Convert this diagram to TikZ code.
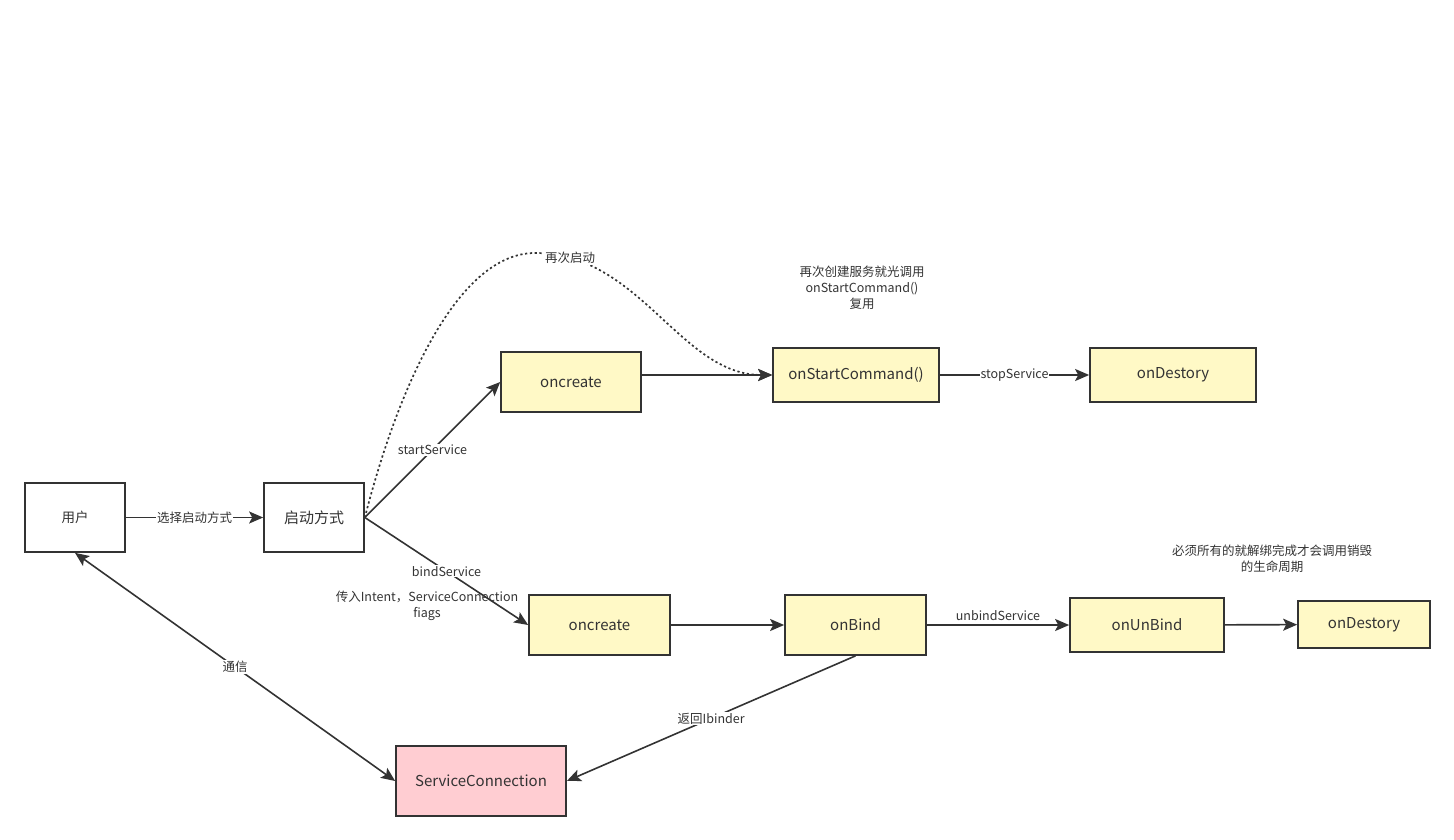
\documentclass[tikz,border=0pt]{standalone}
\usepackage{fontspec}
\setmainfont{Noto Sans CJK SC}
\usepackage{xcolor}
\usetikzlibrary{arrows.meta,positioning}
\definecolor{ink}{HTML}{333333}
\definecolor{noteyellow}{HTML}{FFF9C6}
\definecolor{connpink}{HTML}{FFCDD2}

\begin{document}
\begin{tikzpicture}[
  x=1pt, y=-1pt,
  font=\fontsize{12.5}{15}\selectfont, text=ink,
  box/.style={draw=ink, line width=1.7pt, align=center, inner sep=0pt, font=\fontsize{15}{18}\selectfont},
  plain/.style={box, fill=white},
  stage/.style={box, fill=noteyellow},
  conn/.style={box, fill=connpink},
  arr/.style={-{Stealth[length=14pt, width=12pt, inset=3pt]}, line width=1.6pt, draw=ink},
  both/.style={{Stealth[length=14pt, width=12pt, inset=3pt]}-{Stealth[length=14pt, width=12pt, inset=3pt]}, line width=1.6pt, draw=ink},
  lbl/.style={fill=white, inner sep=1pt, font=\fontsize{12.5}{15}\selectfont},
  note/.style={align=center, font=\fontsize{12.5}{16}\selectfont},
]
\useasboundingbox (0,0) rectangle (1454,840);
\node[plain, minimum width=100pt, minimum height=69pt, font=\fontsize{13.5}{16}\selectfont] (user) at (75,517.5) {用户};
\node[plain, minimum width=100pt, minimum height=69pt] (mode) at (314,517.5) {启动方式};
\node[stage, minimum width=140pt, minimum height=60pt] (create1) at (571,382) {oncreate};
\node[stage, minimum width=166pt, minimum height=54pt] (startcmd) at (856,375) {onStartCommand()};
\node[stage, minimum width=166pt, minimum height=54pt] (destroy1) at (1173,375) {onDestory};
\node[stage, minimum width=141pt, minimum height=60pt] (create2) at (599.5,625) {oncreate};
\node[stage, minimum width=141pt, minimum height=60pt] (bind) at (855.5,625) {onBind};
\node[stage, minimum width=154pt, minimum height=54pt] (unbind) at (1147,625) {onUnBind};
\node[stage, minimum width=132pt, minimum height=47pt] (destroy2) at (1364,624.5) {onDestory};
\node[conn, minimum width=170pt, minimum height=70pt] (svcconn) at (481,781) {ServiceConnection};
\node[note] (reuse) at (862,288) {再次创建服务就光调用\\onStartCommand()\\复用};
\node[note] (unbindnote) at (1272,559) {必须所有的就解绑完成才会调用销毁\\的生命周期};
\node[note] (params) at (427,606) {传入Intent，ServiceConnection\\fiags};
\draw[arr] (user) -- node[lbl]{选择启动方式} (mode);
\draw[arr] (mode.east) -- node[lbl]{startService} (create1.west);
\draw[arr] (mode.east) -- node[lbl]{bindService} (create2.west);
\draw[arr, dash pattern=on 2.2pt off 2.6pt, line width=1.7pt] (mode.east) .. controls (400,380) and (460,253) .. (535,253)
  .. controls (640,253) and (680,375) .. (startcmd.west) node[lbl, pos=0.12]{再次启动};
\draw[arr] (create1.east |- startcmd.west) -- (startcmd.west);
\draw[arr] (startcmd) -- node[lbl]{stopService} (destroy1);
\draw[arr] (create2) -- (bind);
\draw[arr] (bind) -- node[lbl, above=3pt, fill=none]{unbindService} (unbind);
\draw[arr] (unbind) -- (destroy2);
\draw[arr] (bind.south) -- node[lbl]{返回Ibinder} (svcconn.east);
\draw[both] (user.south) -- node[lbl]{通信} (svcconn.west);
\end{tikzpicture}
\end{document}
